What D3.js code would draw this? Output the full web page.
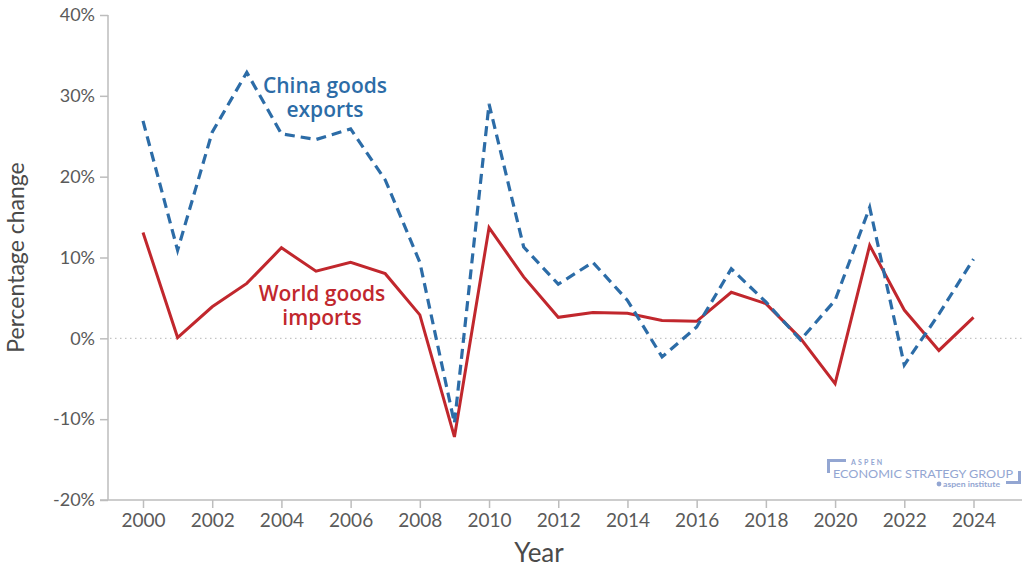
<!DOCTYPE html>
<html>
<head>
<meta charset="utf-8">
<script src="https://cdn.jsdelivr.net/npm/d3@7"></script>
<style>
  html, body { margin: 0; padding: 0; background: #fff; }
  svg { display: block; font-family: Lato, "Open Sans", sans-serif; }
</style>
</head>
<body>
<svg id="chart" width="1025" height="567"></svg>
<script>
// Annual growth, percent
const years = d3.range(2000, 2025);
const chinaExports = [26.9, 10.9, 25.5, 32.9, 25.3, 24.6, 25.9, 19.6, 9.4, -10.5, 29.0, 11.3, 6.7, 9.4, 4.7, -2.3, 1.4, 8.6, 4.5, -0.2, 4.7, 16.2, -3.3, 3.0, 9.8];
const worldImports = [13.1, 0.1, 3.9, 6.8, 11.2, 8.3, 9.4, 8.0, 2.9, -12.2, 13.7, 7.6, 2.6, 3.2, 3.1, 2.2, 2.1, 5.7, 4.3, 0.0, -5.6, 11.5, 3.5, -1.5, 2.6];
const yTicks = [-20, -10, 0, 10, 20, 30, 40];
const xTicks = d3.range(2000, 2025, 2);

const svg = d3.select("#chart");
const axisColor = "#bdbdbd";
const labelColor = "#5a5a5a";
const blue = "#2c6ca7";
const red = "#c1272d";

const plot = { left: 108, right: 1022, top: 15, bottom: 500 };

const x = d3.scaleLinear().domain([2000, 2024]).range([143, 973.5]);
const y = d3.scaleLinear().domain([-20, 40]).range([plot.bottom, plot.top]);

// Y axis
const yAxis = svg.append("g")
  .attr("transform", `translate(${plot.left},0)`)
  .call(d3.axisLeft(y).tickValues(yTicks).tickFormat(d => d + "%").tickSize(8).tickPadding(5).tickSizeOuter(0));
yAxis.select(".domain").attr("stroke", axisColor).attr("stroke-width", 1.5)
  .attr("d", `M0,${plot.top}V${plot.bottom}`);
yAxis.selectAll(".tick line").attr("stroke", axisColor).attr("stroke-width", 1.5);
yAxis.selectAll(".tick text").attr("fill", labelColor).attr("font-size", 18).attr("font-family", "Lato, sans-serif");

// X axis
const xAxis = svg.append("g")
  .attr("transform", `translate(0,${plot.bottom})`)
  .call(d3.axisBottom(x).tickValues(xTicks).tickFormat(d3.format("d")).tickSize(8).tickPadding(6).tickSizeOuter(0));
xAxis.select(".domain").attr("stroke", axisColor).attr("stroke-width", 1.5)
  .attr("d", `M${plot.left - 8},0H${plot.right}`);
xAxis.selectAll(".tick line").attr("stroke", axisColor).attr("stroke-width", 1.5);
xAxis.selectAll(".tick text").attr("fill", labelColor).attr("font-size", 19).attr("font-family", "Lato, sans-serif");

// Zero reference line
svg.append("line")
  .attr("x1", plot.left + 2).attr("x2", plot.right)
  .attr("y1", y(0)).attr("y2", y(0))
  .attr("stroke", "#c4c4c4").attr("stroke-width", 1.2)
  .attr("stroke-dasharray", "1.5,3.5");

// Axis titles
svg.append("text")
  .attr("transform", `translate(24,${y(10)}) rotate(-90)`)
  .attr("text-anchor", "middle")
  .attr("fill", "#4a4a4a").attr("font-size", 23).attr("font-family", "Lato, sans-serif")
  .text("Percentage change");

svg.append("text")
  .attr("x", 539).attr("y", 562)
  .attr("text-anchor", "middle")
  .attr("fill", "#4a4a4a").attr("font-size", 26).attr("font-family", "Lato, sans-serif")
  .text("Year");

// Series lines
const line = d3.line().x((d, i) => x(years[i])).y(d => y(d));

svg.append("path").datum(worldImports)
  .attr("d", line).attr("fill", "none")
  .attr("stroke", red).attr("stroke-width", 3).attr("stroke-linejoin", "miter");

svg.append("path").datum(chinaExports)
  .attr("d", line).attr("fill", "none")
  .attr("stroke", blue).attr("stroke-width", 3.2)
  .attr("stroke-dasharray", "10,6");

// Series labels, one text per line
const labelFont = "'Open Sans', Lato, sans-serif";
function seriesLabel(lines, cx, y0, color) {
  lines.forEach((t, i) => {
    svg.append("text")
      .attr("x", cx).attr("y", y0 + i * 24)
      .attr("fill", color).attr("font-size", 21).attr("font-weight", 600)
      .attr("font-family", labelFont).attr("text-anchor", "middle")
      .text(t);
  });
}
seriesLabel(["China goods", "exports"], 325, 93, blue);
seriesLabel(["World goods", "imports"], 322, 301, red);

// Organisation mark, lower right
const logoColor = "#93a6d2";
const logo = svg.append("g").attr("fill", logoColor).attr("font-family", "Lato, sans-serif");
logo.append("path").attr("d", "M827,459H846V462H830V473H827Z");
logo.append("path").attr("d", "M1018,471H1021V484H1006V481H1018Z");
logo.append("text").attr("x", 851).attr("y", 464.5).attr("font-size", 7).attr("font-weight", 700)
  .attr("letter-spacing", 2.2).text("ASPEN");
logo.append("text").attr("x", 833).attr("y", 477.5).attr("font-size", 11.5)
  .attr("textLength", 180).attr("lengthAdjust", "spacingAndGlyphs").text("ECONOMIC STRATEGY GROUP");
logo.append("circle").attr("cx", 939).attr("cy", 484).attr("r", 2.4);
logo.append("text").attr("x", 943).attr("y", 486.5).attr("font-size", 7).attr("font-weight", 700)
  .attr("textLength", 57).attr("lengthAdjust", "spacingAndGlyphs").text("aspen institute");
</script>
</body>
</html>
